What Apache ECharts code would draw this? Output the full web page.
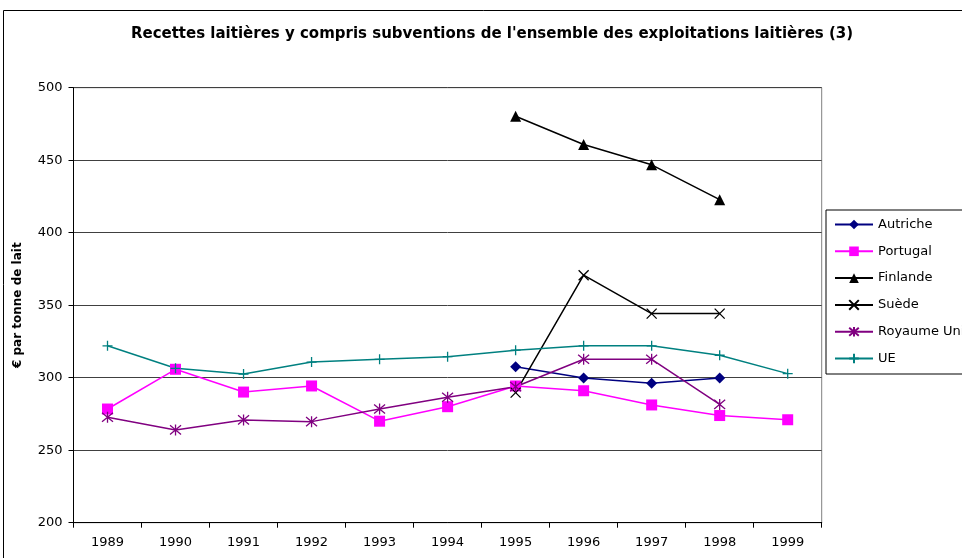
<!DOCTYPE html>
<html>
<head>
<meta charset="utf-8">
<script src="https://cdn.jsdelivr.net/npm/echarts@6/dist/echarts.min.js"></script>
<style>
  html, body { margin: 0; padding: 0; background: #fff; }
  #chart { width: 962px; height: 558px; }
</style>
</head>
<body>
<div id="chart"></div>
<script>
const years = ['1989', '1990', '1991', '1992', '1993', '1994', '1995', '1996', '1997', '1998', '1999'];
const autriche = [null, null, null, null, null, null, 307.6, 299.8, 296.1, 299.8, null];
const portugal = [278.4, 305.8, 290.1, 294.3, 270.0, 280.0, 294.3, 291.0, 281.2, 273.9, 271.0];
const finlande = [null, null, null, null, null, null, 480.3, 460.8, 446.8, 422.8, null];
const suede = [null, null, null, null, null, null, 289.7, 370.7, 344.2, 344.2, null];
const royaumeUni = [272.7, 264.0, 270.9, 269.7, 278.4, 286.5, 293.8, 312.7, 312.7, 281.6, null];
const ue = [322.0, 306.5, 302.5, 310.8, 312.7, 314.5, 319.0, 322.0, 322.0, 315.5, 302.8];
const yTicks = [200, 250, 300, 350, 400, 450, 500];

const FONT = '"DejaVu Sans", sans-serif';

const makeSeries = (name, data, color, symbol, size, stroked) => ({
  name,
  type: 'line',
  data,
  symbol,
  symbolSize: size,
  showSymbol: true,
  lineStyle: {color, width: 1.5},
  itemStyle: stroked
    ? {color: 'rgba(0,0,0,0)', borderColor: color, borderWidth: 1.3}
    : {color},
  emphasis: {disabled: true},
  animation: false,
});

const chart = echarts.init(document.getElementById('chart'), null, {renderer: 'canvas'});
chart.setOption({
  backgroundColor: '#fff',
  textStyle: {fontFamily: FONT},
  title: {
    text: "Recettes laitières y compris subventions de l'ensemble des exploitations laitières (3)",
    left: 487,
    top: 22,
    textAlign: 'center',
    textStyle: {fontFamily: FONT, fontWeight: 'bold', fontSize: 15, color: '#000'},
  },
  graphic: [{
    type: 'rect',
    shape: {x: 3.5, y: 10.5, width: 1000, height: 600},
    style: {fill: 'none', stroke: '#000', lineWidth: 1},
    silent: true,
    z: -1,
  }],
  legend: {
    orient: 'vertical',
    left: 826,
    top: 210,
    padding: [8, 8, 9, 8],
    itemWidth: 38,
    itemHeight: 12,
    itemGap: 13.8,
    borderColor: '#000',
    borderWidth: 1,
    textStyle: {fontFamily: FONT, fontSize: 13, color: '#000', lineHeight: 12},
    data: ['Autriche', 'Portugal', 'Finlande', 'Suède', 'Royaume Uni', 'UE'],
  },
  grid: {
    left: 73.5,
    top: 87.7,
    right: 140.3,
    bottom: 35.3,
    show: true,
    borderColor: '#808080',
    borderWidth: 1,
  },
  xAxis: {
    type: 'category',
    data: years,
    boundaryGap: true,
    axisLine: {lineStyle: {color: '#000', width: 1}},
    axisTick: {show: true, length: 5, interval: 0, lineStyle: {color: '#000'}},
    axisLabel: {fontFamily: FONT, fontSize: 13, color: '#000', margin: 13, interval: 0},
    splitLine: {show: false},
  },
  yAxis: {
    type: 'value',
    min: yTicks[0],
    max: yTicks[yTicks.length - 1],
    interval: 50,
    name: '€ par tonne de lait',
    nameLocation: 'middle',
    nameGap: 50,
    nameTextStyle: {fontFamily: FONT, fontWeight: 'bold', fontSize: 12, color: '#000'},
    axisLine: {show: true, lineStyle: {color: '#000', width: 1}},
    axisTick: {show: true, length: 5, lineStyle: {color: '#000'}},
    axisLabel: {fontFamily: FONT, fontSize: 13, color: '#000', margin: 11},
    splitLine: {lineStyle: {color: '#404040', width: 1}},
  },
  series: [
    makeSeries('Autriche', autriche, '#000080', 'diamond', 11, false),
    makeSeries('Portugal', portugal, '#ff00ff', 'rect', 11, false),
    makeSeries('Finlande', finlande, '#000000', 'triangle', 11, false),
    makeSeries('Suède', suede, '#000000', 'path://M0,0L10,10M10,0L0,10', 10, true),
    makeSeries('Royaume Uni', royaumeUni, '#800080', 'path://M0,0L10,10M10,0L0,10M5,-1L5,11', 11, true),
    makeSeries('UE', ue, '#008080', 'path://M5,0L5,10M0,5L10,5', 10, true),
  ],
});
</script>
</body>
</html>
